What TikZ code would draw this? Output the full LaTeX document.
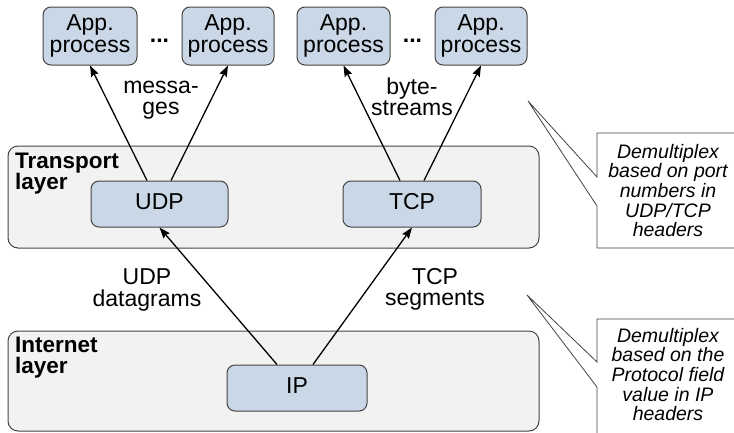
\documentclass[tikz,border=0pt]{standalone}
\usepackage{fontspec}
\setmainfont{Liberation Sans}
\usetikzlibrary{arrows.meta}

\definecolor{procfill}{HTML}{C9D7E6}
\definecolor{layerfill}{HTML}{F2F2F2}
\definecolor{edgegray}{HTML}{444444}

% struts fixing the first-line height / last-line depth of labels
\newcommand\mstrut{\rule[-5pt]{0pt}{22pt}}
\newcommand\nstrut{\rule[-4pt]{0pt}{18.5pt}}

\begin{document}
\begin{tikzpicture}[x=1pt,y=-1pt,
  plainfont/.style={font=\fontsize{23}{21.5}\selectfont},
  proc/.style={plainfont, draw=edgegray, fill=procfill, line width=1pt,
    rounded corners=8pt, align=center, inner sep=0pt},
  proto/.style={proc, text height=15pt, text depth=4pt},
  layer/.style={draw=edgegray, fill=layerfill, line width=1pt, rounded corners=10pt, inner sep=0pt},
  layerlabel/.style={font=\fontsize{22.5}{21}\selectfont\bfseries, anchor=north west,
    align=left, inner sep=0pt},
  flowlabel/.style={plainfont, anchor=north, align=center, inner sep=0pt},
  arr/.style={line width=1.3pt, -{Stealth[length=11pt,width=8pt,inset=1.5pt]}},
  note/.style={draw=edgegray, fill=white, line width=0.8pt},
  notetext/.style={font=\fontsize{19.5}{19.6}\selectfont\itshape, anchor=north,
    align=center, inner sep=0pt},
  dots/.style={font=\fontsize{23}{21.5}\selectfont\bfseries, anchor=base, inner sep=0pt}
]
\useasboundingbox (0,0) rectangle (734,432);
\clip (0,0) rectangle (734,432);

% layers
\node[layer, minimum width=531pt, minimum height=102pt] (transport) at (273.5,197) {};
\node[layer, minimum width=531pt, minimum height=100pt] (internet) at (273.5,381) {};
\node[layerlabel] (tlabel) at (15,153) {Transport\\layer};
\node[layerlabel] (ilabel) at (15,337) {Internet\\layer};

% application processes
\node[proc, minimum width=94pt, minimum height=58pt] (app1) at (90,36) {App.\\process};
\node[proc, minimum width=92pt, minimum height=58pt] (app2) at (228,36) {App.\\process};
\node[proc, minimum width=93pt, minimum height=58pt] (app3) at (343.5,36) {App.\\process};
\node[proc, minimum width=92pt, minimum height=58pt] (app4) at (481,36) {App.\\process};
\node[dots] (dots1) at (159.5,42) {...};
\node[dots] (dots2) at (412.5,42) {...};

% protocols
\node[proto, minimum width=137pt, minimum height=46pt] (udp) at (159.5,204) {UDP};
\node[proto, minimum width=138pt, minimum height=46pt] (tcp) at (412,204) {TCP};
\node[proto, minimum width=140pt, minimum height=46pt] (ip) at (297,388) {IP};

% data flows
\draw[arr] ([xshift=-12.5pt]udp.north) -- (app1.south);
\draw[arr] ([xshift=11.5pt]udp.north) -- (app2.south);
\draw[arr] ([xshift=-12pt]tcp.north) -- (app3.south);
\draw[arr] ([xshift=12pt]tcp.north) -- (app4.south);
\draw[arr] ([xshift=-20pt]ip.north) -- (udp.south);
\draw[arr] ([xshift=16pt]ip.north) -- (tcp.south);

\node[flowlabel] (lmsg) at (161,76) {\mstrut messa-\\ges};
\node[flowlabel] (lbytes) at (412,77) {\mstrut byte-\\streams};
\node[flowlabel] (ldgram) at (147,267) {\mstrut UDP\\datagrams};
\node[flowlabel] (lseg) at (435,267) {\mstrut TCP\\segments};

% callout notes
\coordinate (n1apex) at (528,101);
\draw[note] (597,177) -- (597,133) -- (745,133) -- (745,248) -- (597,248)
  -- (597,206) -- (n1apex) -- cycle;
\node[notetext] (n1text) at (668,143.5)
  {\nstrut Demultiplex\\based on port\\numbers in\\UDP/TCP\\headers};

\coordinate (n2apex) at (527,295);
\draw[note] (597,362) -- (597,319) -- (745,319) -- (745,445) -- (597,445)
  -- (597,387) -- (n2apex) -- cycle;
\node[notetext] (n2text) at (668,327.5)
  {\nstrut Demultiplex\\based on the\\Protocol field\\value in IP\\headers};
\end{tikzpicture}
\end{document}
